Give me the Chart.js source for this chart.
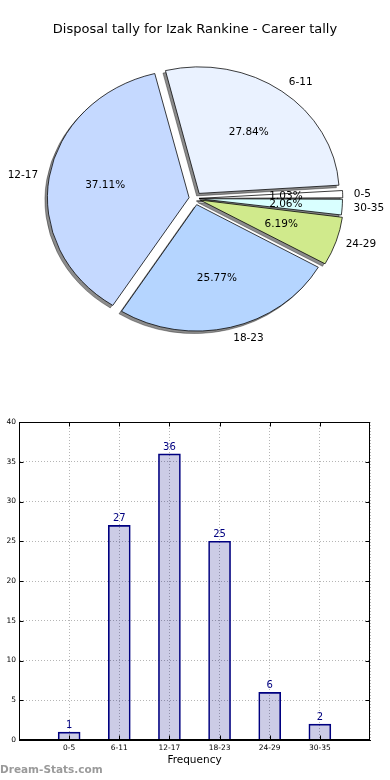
<!DOCTYPE html>
<html><head><meta charset="utf-8">
<script src="https://cdn.jsdelivr.net/npm/chart.js@4.4.1/dist/chart.umd.min.js"></script>
<style>
html,body{margin:0;padding:0;background:#fff;width:390px;height:780px;overflow:hidden;}
#pieWrap{position:absolute;left:0;top:0;width:390px;height:357px;}
#barWrap{position:absolute;left:0;top:400px;width:390px;height:380px;}
#wm{position:absolute;left:0;top:763px;font:bold 10.5px "DejaVu Sans";color:#9a9a9a;white-space:nowrap;}
</style></head><body>
<div id="pieWrap"><canvas id="pie" width="390" height="357"></canvas></div>
<div id="barWrap"><canvas id="bar" width="390" height="380"></canvas></div>
<div id="wm">Dream-Stats.com</div>
<script>
const chartTitle = 'Disposal tally for Izak Rankine - Career tally';
const categories = ['0-5', '6-11', '12-17', '18-23', '24-29', '30-35'];
const counts = [1, 27, 36, 25, 6, 2];
const sliceColors = ['#ffffff', '#eaf2ff', '#c5d9ff', '#b5d5ff', '#d0ea8c', '#d9ffff'];
const yTickStep = 5;
const yMax = 40;
const xAxisTitle = 'Frequency';

const FONT = 'DejaVu Sans';
const SY = 0.903;        // vertical squash of the pie (ellipse)
const EXPLODE = 7;       // explode distance in px
const LABEL_DIST = 1.085;
const PCT_DIST = 0.6;
const total = counts.reduce((a, b) => a + b, 0);

// matplotlib draws counter-clockwise from east; Chart.js draws clockwise -> reverse order, start at east
const order = categories.map((_, i) => i).reverse();

function sliceOffset(v) {
  const f = v / total;
  if (f < 0.05) return 16;
  if (f < 0.1) return 22;
  if (f > 0.35) return 24;
  return 28;
}

const ellipsePlugin = {
  id: 'ellipse',
  beforeDatasetsDraw(chart) {
    const ctx = chart.ctx;
    const arcs = chart.getDatasetMeta(0).data;
    const cx = arcs[0].x, cy = arcs[0].y;
    ctx.save();
    ctx.translate(cx, cy); ctx.scale(1, SY); ctx.translate(-cx, -cy);
    // shadows behind all wedges
    ctx.save();
    ctx.shadowColor = 'rgba(0,0,0,0.45)';
    ctx.shadowBlur = 0;
    ctx.shadowOffsetX = 10000 - 2.5;
    ctx.shadowOffsetY = 2.5;
    ctx.translate(-10000, 0);
    arcs.forEach(a => a.draw(ctx));
    ctx.restore();
  },
  afterDatasetsDraw(chart) { chart.ctx.restore(); }
};

const pieLabelPlugin = {
  id: 'pieLabels',
  afterDraw(chart) {
    const ctx = chart.ctx;
    const arcs = chart.getDatasetMeta(0).data;
    ctx.save();
    ctx.font = '10.5px "' + FONT + '"';
    ctx.fillStyle = '#000';
    ctx.textBaseline = 'middle';
    arcs.forEach((el, j) => {
      const i = order[j];
      const mid = (el.startAngle + el.endAngle) / 2;
      const R = el.outerRadius;
      const pos = d => [el.x + Math.cos(mid) * (EXPLODE + d), el.y + Math.sin(mid) * (EXPLODE + d) * SY];
      const [lx, ly] = pos(LABEL_DIST * R);
      ctx.textAlign = Math.cos(mid) >= 0 ? 'left' : 'right';
      ctx.fillText(categories[i], lx, ly);
      const [px, py] = pos(PCT_DIST * R);
      ctx.textAlign = 'center';
      ctx.fillText((counts[i] / total * 100).toFixed(2) + '%', px, py);
    });
    ctx.restore();
  }
};

new Chart(document.getElementById('pie'), {
  type: 'pie',
  data: {
    labels: order.map(i => categories[i]),
    datasets: [{
      data: order.map(i => counts[i]),
      backgroundColor: order.map(i => sliceColors[i]),
      borderColor: '#000',
      borderWidth: 0.8,
      offset: order.map(i => sliceOffset(counts[i])),
      hoverOffset: 0
    }]
  },
  options: {
    responsive: false,
    animation: false,
    rotation: 90,
    radius: 140,
    layout: { padding: 0 },
    events: [],
    plugins: {
      legend: { display: false },
      tooltip: { enabled: false },
      title: {
        display: true, text: chartTitle, color: '#000',
        font: { family: FONT, size: 13, weight: 'normal', lineHeight: 1.2 },
        padding: { top: 22.2, bottom: 2.2 }
      }
    }
  },
  plugins: [ellipsePlugin, pieLabelPlugin]
});

const framePlugin = {
  id: 'frame',
  afterDraw(chart) {
    const { ctx, chartArea: a, scales } = chart;
    ctx.save();
    ctx.strokeStyle = '#000';
    ctx.lineWidth = 1;
    const L = Math.round(a.left) + 0.5, R = Math.round(a.right) - 0.5, T = Math.round(a.top) + 0.5, B = Math.round(a.bottom) - 0.5;
    ctx.strokeRect(L, T, R - L, B - T);
    ctx.beginPath();
    scales.y.ticks.forEach(t => {
      const y = Math.round(scales.y.getPixelForValue(t.value)) + 0.5;
      ctx.moveTo(L, y); ctx.lineTo(L + 4, y);
      ctx.moveTo(R, y); ctx.lineTo(R - 4, y);
    });
    scales.x.ticks.forEach(t => {
      if (!categories[t.value - 1]) return;
      const x = Math.round(scales.x.getPixelForValue(t.value)) + 0.5;
      ctx.moveTo(x, B); ctx.lineTo(x, B - 4);
      ctx.moveTo(x, T); ctx.lineTo(x, T + 4);
    });
    ctx.stroke();
    ctx.restore();
  }
};

const valueLabelPlugin = {
  id: 'valueLabels',
  afterDatasetsDraw(chart) {
    const ctx = chart.ctx;
    ctx.save();
    ctx.font = '10px "' + FONT + '"';
    ctx.fillStyle = '#000080';
    ctx.textAlign = 'center';
    ctx.textBaseline = 'bottom';
    chart.getDatasetMeta(0).data.forEach((el, i) => {
      ctx.fillText(String(counts[i]), el.x, el.y - 1.5);
    });
    ctx.restore();
  }
};

new Chart(document.getElementById('bar'), {
  type: 'bar',
  data: {
    datasets: [{
      data: counts.map((v, i) => ({ x: i + 1, y: v })),
      backgroundColor: 'rgba(0,0,128,0.2)',
      borderColor: '#000080',
      borderWidth: 1,
      barThickness: 22
    }]
  },
  options: {
    responsive: false,
    animation: false,
    events: [],
    layout: { padding: { top: 22, right: 20, left: 0, bottom: 0 } },
    plugins: { legend: { display: false }, tooltip: { enabled: false } },
    scales: {
      x: {
        type: 'linear', min: 0, max: categories.length + 1, offset: false,
        ticks: {
          stepSize: 1, autoSkip: false, maxRotation: 0, padding: 4, color: '#000',
          font: { family: FONT, size: 7.5 },
          callback: v => categories[v - 1] || ''
        },
        grid: { color: '#b5b5b5', drawTicks: false, offset: false, lineWidth: 1 },
        border: { display: true, color: '#000', width: 1, dash: [1, 2] },
        title: {
          display: true, text: xAxisTitle, color: '#000',
          font: { family: FONT, size: 10.5, lineHeight: 1.2 },
          padding: { top: 0, bottom: 13.7 }
        },
        afterFit: s => { s.height = 40; }
      },
      y: {
        min: 0, max: yMax,
        ticks: { stepSize: yTickStep, padding: 3, color: '#000', font: { family: FONT, size: 7.5 } },
        grid: { color: '#b5b5b5', drawTicks: false, lineWidth: 1 },
        border: { display: true, color: '#000', width: 1, dash: [1, 2] },
        afterFit: s => { s.width = 19; }
      }
    }
  },
  plugins: [framePlugin, valueLabelPlugin]
});
</script>
</body></html>
